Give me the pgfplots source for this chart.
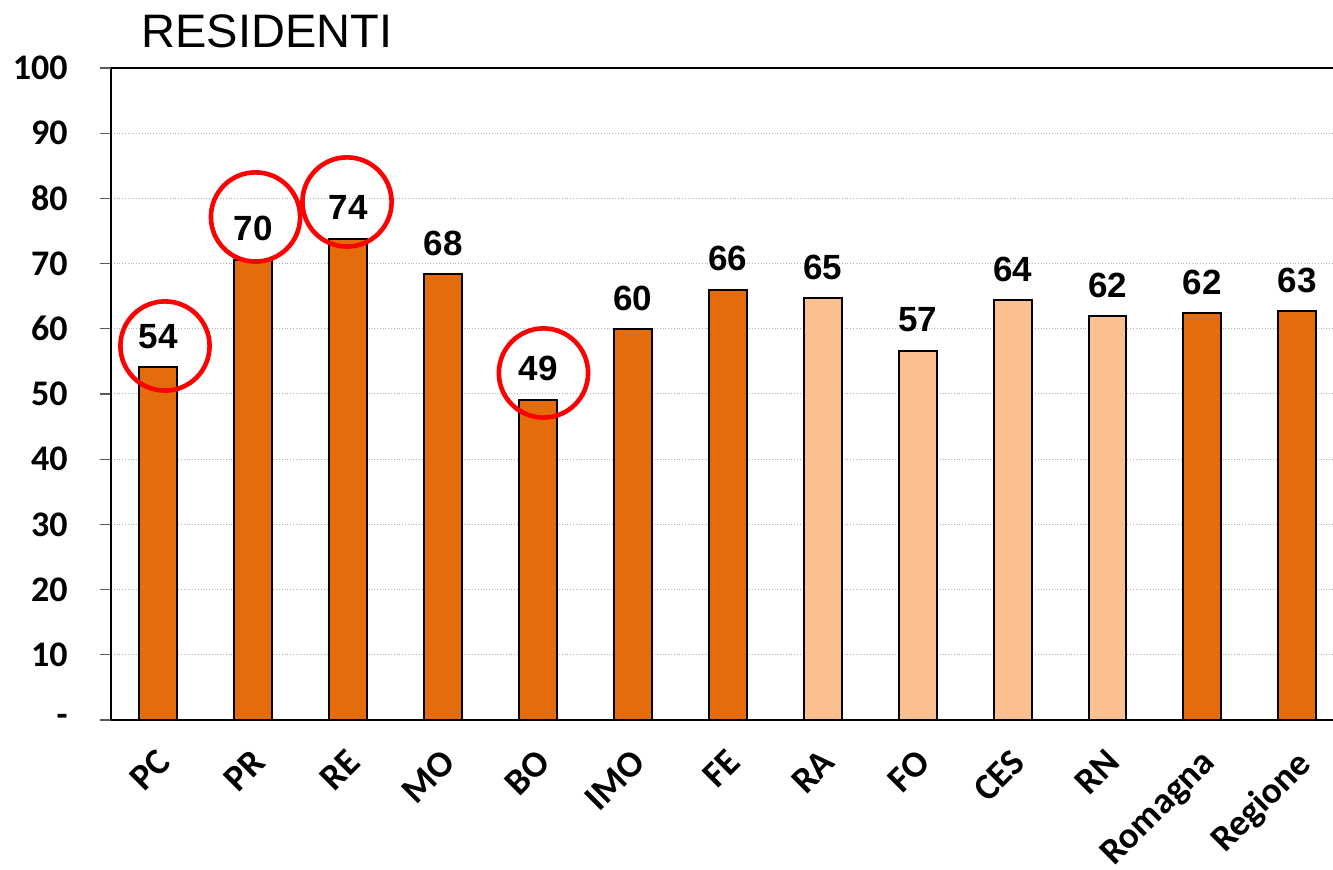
\documentclass[border=0pt]{standalone}
\usepackage{pgfplots}
\pgfplotsset{compat=1.18}
\usepackage{fontspec}
\setmainfont{Liberation Sans}
\newfontfamily\carlito{Carlito}
\definecolor{darkor}{HTML}{E46C0A}
\definecolor{lightor}{HTML}{FAC090}
\begin{document}
\begin{tikzpicture}
\begin{axis}[
  name=ax,
  scale only axis, width=611pt, height=326pt,
  xmin=-0.5, xmax=12.376, ymin=0, ymax=100,
  axis lines=left, axis line style={-, line width=1pt},
  clip=false,
  xtick={0,...,12},
  xticklabels={PC,PR,RE,MO,BO,IMO,FE,RA,FO,CES,RN,Romagna,Regione},
  xtick style={draw=none},
  minor xtick={-0.5,0.5,...,12.5},
  minor x tick style={gray!70!black, line width=0.6pt},
  minor tick length=5.5pt,
  ytick={0,10,...,100},
  yticklabels={-,10,20,30,40,50,60,70,80,90,100},
  y tick style={gray!70!black, line width=0.6pt},
  major tick length=5.5pt,
  tick align=outside,
  ymajorgrids, major grid style={gray!60, densely dotted, line width=0.5pt},
  extra y ticks={100}, extra y tick labels={},
  extra y tick style={grid=major, major grid style={black, solid, line width=1pt}},
  yticklabel style={font=\carlito\bfseries\fontsize{18}{18}\selectfont, anchor=east, inner sep=0pt, xshift=-16pt},
  xticklabel style={font=\carlito\bfseries\fontsize{18.5}{18.5}\selectfont, anchor=north east, inner sep=0pt, xshift=-1.5pt, yshift=-8pt, rotate=45},
]
\addplot[ybar, bar width=0.4, bar shift=0pt, fill=darkor, draw=black, line width=1pt,
  point meta=explicit symbolic, nodes near coords,
  every node near coord/.append style={font=\bfseries\fontsize{17.5}{17.5}\selectfont, anchor=center, yshift=15.5pt, black}]
  coordinates {(0,54.1)[54] (1,70.6)[70] (2,73.8)[74] (3,68.4)[68] (4,49.1)[49] (5,59.9)[60] (6,66.0)[66] (11,62.4)[62] (12,62.7)[63]};
\addplot[ybar, bar width=0.4, bar shift=0pt, fill=lightor, draw=black, line width=1pt,
  point meta=explicit symbolic, nodes near coords,
  every node near coord/.append style={font=\bfseries\fontsize{17.5}{17.5}\selectfont, anchor=center, yshift=15.5pt, black}]
  coordinates {(7,64.7)[65] (8,56.6)[57] (9,64.4)[64] (10,61.9)[62]};
\addplot[only marks, mark=o, mark size=22.3pt, draw=red, mark options={solid, draw=red, line width=2.3pt}]
  coordinates {(0.069,57.36) (1.023,77.15) (1.987,79.45) (4.057,53.22)};
\node[anchor=base west, font=\fontsize{23.5}{23.5}\selectfont, inner sep=0pt] at (axis cs:-0.184,103.1) {RESIDENTI};
\end{axis}
\pgfresetboundingbox
\path[use as bounding box] ([xshift=-55.5pt,yshift=-75pt]ax.south west) rectangle ([yshift=34pt]ax.north east);
\end{tikzpicture}
\end{document}
